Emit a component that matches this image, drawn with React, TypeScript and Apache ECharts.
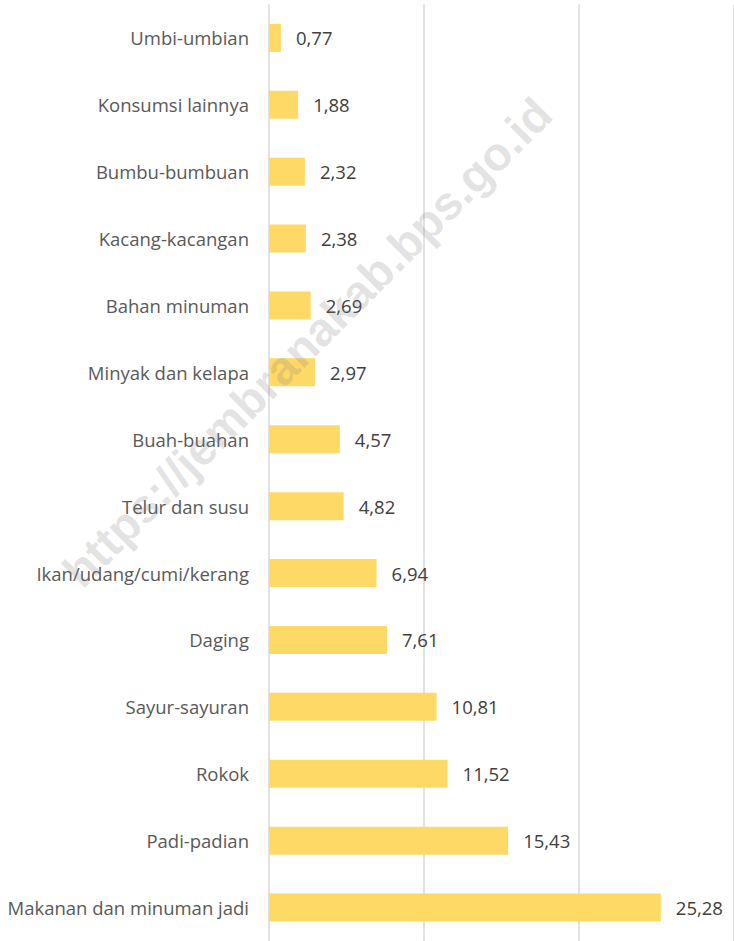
import React, { useEffect, useRef } from "react";
import * as echarts from "echarts";

const categories = [
  "Umbi-umbian",
  "Konsumsi lainnya",
  "Bumbu-bumbuan",
  "Kacang-kacangan",
  "Bahan minuman",
  "Minyak dan kelapa",
  "Buah-buahan",
  "Telur dan susu",
  "Ikan/udang/cumi/kerang",
  "Daging",
  "Sayur-sayuran",
  "Rokok",
  "Padi-padian",
  "Makanan dan minuman jadi",
];

const values = [0.77, 1.88, 2.32, 2.38, 2.69, 2.97, 4.57, 4.82, 6.94, 7.61, 10.81, 11.52, 15.43, 25.28];

const watermarkText = "https://jembranakab.bps.go.id";

export default function App() {
  const ref = useRef<HTMLDivElement>(null);

  useEffect(() => {
    if (!ref.current) return;
    const chart = echarts.init(ref.current, undefined, { renderer: "svg" });
    chart.setOption({
      animation: false,
      backgroundColor: "#ffffff",
      grid: { left: 269, top: 4.4, width: 468, height: 940.5, containLabel: false },
      xAxis: {
        type: "value",
        min: 0,
        max: 30,
        interval: 10,
        axisLabel: { show: false },
        axisLine: { show: false },
        axisTick: { show: false },
        splitLine: { show: true, lineStyle: { color: "#d9d9d9", width: 1.5 } },
      },
      yAxis: {
        type: "category",
        data: categories,
        inverse: true,
        axisLine: { show: false },
        axisTick: { show: false },
        axisLabel: {
          color: "#595959",
          fontFamily: "Open Sans",
          fontSize: 18.5,
          margin: 20,
        },
      },
      series: [
        {
          type: "bar",
          data: values,
          barWidth: 28,
          itemStyle: { color: "#FFD966" },
          label: {
            show: true,
            position: "right",
            distance: 15,
            color: "#404040",
            fontFamily: "Open Sans",
            fontSize: 18.5,
            formatter: (p: any) => p.value.toFixed(2).replace(".", ","),
          },
        },
      ],
      graphic: [
        {
          type: "text",
          x: 307,
          y: 342,
          rotation: Math.PI / 4,
          z: 100,
          silent: true,
          style: {
            text: watermarkText,
            fontFamily: "Liberation Sans",
            fontWeight: "bold",
            fontSize: 47,
            fill: "rgba(128,128,128,0.22)",
            textAlign: "center",
            textVerticalAlign: "middle",
          },
        },
      ],
    });
    return () => chart.dispose();
  }, []);

  return (
    <div
      ref={ref}
      style={{ position: "absolute", left: 0, top: 0, width: 734, height: 941 }}
    />
  );
}
